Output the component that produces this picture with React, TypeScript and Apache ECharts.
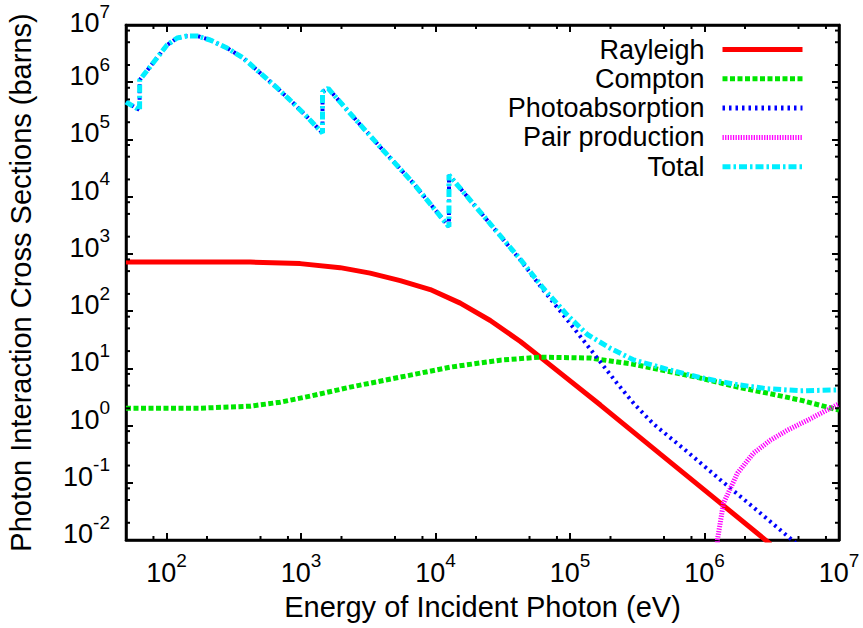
import React, { useEffect, useRef } from "react";
import * as echarts from "echarts";

const FONT = "'Liberation Sans', Arial, Helvetica, sans-serif";

// Axis ranges
const X_MIN = 50;
const X_MAX = 1e7;
const Y_MIN = 1e-2;
const Y_MAX = 1e7;

// Minor tick positions (2, 5, 8 per decade)
const X_MINOR_TICKS = [80, 200, 500, 800, 2e3, 5e3, 8e3, 2e4, 5e4, 8e4, 2e5, 5e5, 8e5, 2e6, 5e6, 8e6];
const Y_MINOR_TICKS = [
  0.02, 0.05, 0.08, 0.2, 0.5, 0.8, 2, 5, 8, 20, 50, 80, 200, 500, 800,
  2e3, 5e3, 8e3, 2e4, 5e4, 8e4, 2e5, 5e5, 8e5, 2e6, 5e6, 8e6,
];

// Rayleigh (coherent) scattering, energy in eV, cross section in barns
const RAYLEIGH_E = [50, 419, 986, 1954, 3266, 5470, 9141, 15280, 25530, 42760, 60120, 168300, 469900, 1315000, 3097000];
const RAYLEIGH_S = [719, 719, 676, 575, 461, 341, 238, 138, 68.5, 29.4, 15.7, 2.28, 0.316, 0.044, 0.00845];

// Compton (incoherent) scattering
const COMPTON_E = [50, 178, 419, 700, 1170, 2320, 5470, 12900, 30300, 60100, 141600, 295800, 529700, 933300, 1641000, 2938000, 5176000, 1e7];
const COMPTON_S = [2.01, 2.01, 2.18, 2.56, 3.27, 4.69, 7.02, 10.5, 13.9, 15.7, 15.1, 11.8, 8.93, 6.75, 4.89, 3.68, 2.78, 1.86];

// Photoelectric absorption (with absorption edges)
const PHOTO_E = [
  50, 63.1, 63.2, 79.4, 101, 120, 142, 169, 211, 282, 372, 497, 665, 875, 1112, 1445, 1446, 1592, 2203, 3882, 6823,
  12590, 12600, 21530, 42760, 63390, 95700, 134600, 168300, 225400, 302000, 416900, 746500, 1315000, 2312000, 4753000,
];
const PHOTO_S = [
  4.51e5, 3.27e5, 1.09e6, 2.17e6, 4.47e6, 5.93e6, 6.43e6, 6.43e6, 5.47e6, 3.96e6, 2.65e6, 1.45e6, 7.93e5, 4.33e5, 2.47e5,
  1.29e5, 6.8e5, 7.8e5, 3.27e5, 7.36e4, 1.73e4, 2980, 2.39e4, 5380, 780, 233, 69.7, 25.1, 12.9, 5.37, 2.34, 1.07,
  0.347, 0.112, 0.0372, 0.0089,
];

// Electron-positron pair production
const PAIR_E = [1230000, 1247000, 1384000, 1758000, 2312000, 3097000, 4140000, 5834000, 1e7];
const PAIR_S = [0.001, 0.01, 0.044, 0.147, 0.329, 0.556, 0.832, 1.24, 2.4];

// Total cross section
const TOTAL_E = [
  50, 63.1, 63.2, 79.4, 101, 120, 142, 169, 211, 282, 372, 497, 665, 875, 1112, 1445, 1446, 1592, 2203, 3882, 6823,
  12590, 12600, 21530, 42760, 63390, 95500, 134600, 199500, 295800, 529700, 933300, 1641000, 2938000, 5176000, 1e7,
];
const TOTAL_S = [
  4.51e5, 3.27e5, 1.09e6, 2.17e6, 4.47e6, 5.93e6, 6.43e6, 6.43e6, 5.47e6, 3.96e6, 2.65e6, 1.45e6, 7.93e5, 4.33e5, 2.47e5,
  1.29e5, 6.8e5, 7.8e5, 3.27e5, 7.36e4, 1.73e4, 2980, 2.39e4, 5380, 800, 251, 85, 39, 22.4, 14.1, 9.6, 6.9, 5.3, 4.4,
  4.05, 4.2,
];

const pairs = (xs: number[], ys: number[]) => xs.map((x, i) => [x, ys[i]]);

const decade = (v: number) => {
  const e = Math.round(Math.log10(v));
  return Math.abs(v - Math.pow(10, e)) > 1e-6 * Math.pow(10, e) ? null : e;
};

// "10" with a raised exponent
const xLabel = (v: number) => {
  const e = decade(v);
  return e === null ? "" : `{b|10}{s|${e}}`;
};
// same on the y axis, with the topmost label nudged down to stay on the page
const yLabel = (v: number) => {
  const e = decade(v);
  if (e === null) return "";
  return e === 7 ? `{bt|10}{st|${e}}` : `{b|10}{s|${e}}`;
};

const richLabel = {
  b: { fontFamily: FONT, fontSize: 27, color: "#000" },
  s: { fontFamily: FONT, fontSize: 19, color: "#000", padding: [0, 0, 24, 0] },
  bt: { fontFamily: FONT, fontSize: 27, color: "#000", padding: [8, 0, 0, 0] },
  st: { fontFamily: FONT, fontSize: 19, color: "#000", padding: [8, 0, 24, 0] },
};

const frameLine = { show: true, onZero: false, lineStyle: { color: "#000", width: 2.5 } };
const majorTick = { show: true, inside: true, length: 7, lineStyle: { color: "#000", width: 2 } };

// One short inward tick per value, on one side of the plot frame
type Side = "bottom" | "top" | "left" | "right";
const minorTickSeries = (values: number[], side: Side) => ({
  type: "custom",
  silent: true,
  clip: false,
  z: 20,
  data: values.map((v) => (side === "bottom" || side === "top" ? [v, Y_MIN] : [X_MIN, v])),
  renderItem: (_p: any, api: any) => {
    const style = { stroke: "#000", lineWidth: 2 };
    if (side === "bottom" || side === "top") {
      const p = api.coord([api.value(0), side === "bottom" ? Y_MIN : Y_MAX]);
      const d = side === "bottom" ? -4 : 4;
      return { type: "line", shape: { x1: p[0], y1: p[1], x2: p[0], y2: p[1] + d }, style };
    }
    const p = api.coord([side === "left" ? X_MIN : X_MAX, api.value(1)]);
    const d = side === "left" ? 4 : -4;
    return { type: "line", shape: { x1: p[0], y1: p[1], x2: p[0] + d, y2: p[1] }, style };
  },
});

export default function App() {
  const ref = useRef<HTMLDivElement>(null);

  useEffect(() => {
    if (!ref.current) return;
    const chart = echarts.init(ref.current, undefined, { renderer: "svg" });

    const curve = (name: string, xs: number[], ys: number[], color: string, width: number, dash: any) => ({
      name,
      type: "line",
      data: pairs(xs, ys),
      symbol: "none",
      lineStyle: { color, width, type: dash },
      itemStyle: { color },
    });

    chart.setOption({
      animation: false,
      backgroundColor: "#fff",
      grid: {
        left: 126,
        right: 24,
        top: 25,
        bottom: 88,
        outerBoundsMode: "none",
        show: true,
        borderColor: "#000",
        borderWidth: 2.5,
      },
      legend: {
        orient: "vertical",
        right: 58,
        top: 36,
        align: "right",
        itemWidth: 80,
        itemHeight: 20,
        itemGap: 2.3,
        padding: 0,
        selectedMode: false,
        itemStyle: { opacity: 0 },
        lineStyle: { width: 5 },
        textStyle: { fontFamily: FONT, fontSize: 27, color: "#000", padding: [0, 13, 0, 0] },
        data: ["Rayleigh", "Compton", "Photoabsorption", "Pair production", "Total"],
      },
      xAxis: [
        {
          type: "log",
          logBase: 10,
          min: X_MIN,
          max: X_MAX,
          name: "Energy of Incident Photon (eV)",
          nameLocation: "middle",
          nameGap: 52,
          nameTextStyle: { fontFamily: FONT, fontSize: 29, color: "#000" },
          axisLine: frameLine,
          axisTick: majorTick,
          splitLine: { show: false },
          axisLabel: { formatter: xLabel, rich: richLabel, margin: 11 },
        },
        {
          type: "log",
          logBase: 10,
          min: X_MIN,
          max: X_MAX,
          position: "top",
          axisLine: frameLine,
          axisTick: majorTick,
          splitLine: { show: false },
          axisLabel: { show: false },
        },
      ],
      yAxis: [
        {
          type: "log",
          logBase: 10,
          min: Y_MIN,
          max: Y_MAX,
          name: "Photon Interaction Cross Sections (barns)",
          nameLocation: "middle",
          nameGap: 91,
          nameTextStyle: { fontFamily: FONT, fontSize: 29, color: "#000" },
          axisLine: frameLine,
          axisTick: majorTick,
          splitLine: { show: false },
          axisLabel: { formatter: yLabel, rich: richLabel, margin: 16, padding: [0, 0, 12, 0] },
        },
        {
          type: "log",
          logBase: 10,
          min: Y_MIN,
          max: Y_MAX,
          position: "right",
          axisLine: frameLine,
          axisTick: majorTick,
          splitLine: { show: false },
          axisLabel: { show: false },
        },
      ],
      series: [
        curve("Rayleigh", RAYLEIGH_E, RAYLEIGH_S, "#ff0000", 5, "solid"),
        curve("Compton", COMPTON_E, COMPTON_S, "#00e600", 5, [5, 2.5]),
        curve("Photoabsorption", PHOTO_E, PHOTO_S, "#0000ff", 4, [2.5, 4]),
        curve("Pair production", PAIR_E, PAIR_S, "#ff00ff", 5, [1.3, 1.3]),
        curve("Total", TOTAL_E, TOTAL_S, "#00eeff", 5, [8, 3, 2.5, 3]),
        minorTickSeries(X_MINOR_TICKS, "bottom"),
        minorTickSeries(X_MINOR_TICKS, "top"),
        minorTickSeries(Y_MINOR_TICKS, "left"),
        minorTickSeries(Y_MINOR_TICKS, "right"),
      ],
    });

    return () => chart.dispose();
  }, []);

  return <div ref={ref} style={{ position: "fixed", left: 0, top: 0, width: 863, height: 628 }} />;
}
